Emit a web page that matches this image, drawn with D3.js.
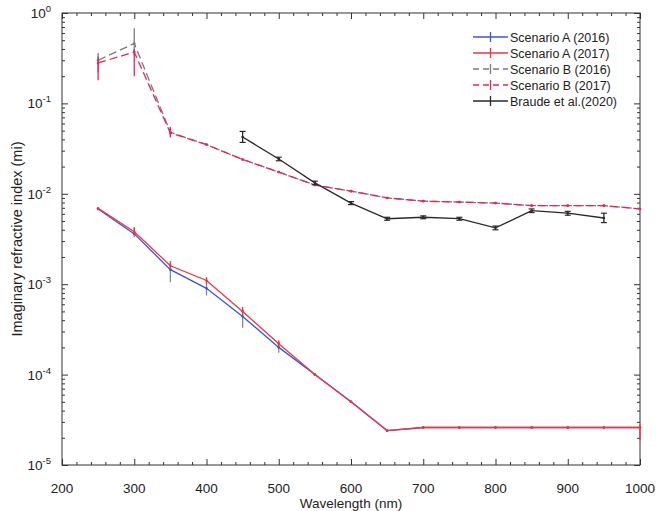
<!DOCTYPE html>
<html>
<head>
<meta charset="utf-8">
<script src="https://cdn.jsdelivr.net/npm/d3@7"></script>
<style>
  html, body { margin: 0; padding: 0; background: #fff; }
  svg { display: block; font-family: "Liberation Sans", Arial, Helvetica, sans-serif; }
</style>
</head>
<body>
<svg id="chart" width="656" height="511"></svg>
<script>
// Wavelength grid (nm) shared by the four scenario curves
const wavelengths = [250, 300, 350, 400, 450, 500, 550, 600, 650, 700, 750, 800, 850, 900, 950, 1000];

// Scenario A: imaginary refractive index
const scenarioA2016 = [0.0068, 0.0036, 0.00145, 0.00090, 0.00044, 0.00020, 0.00010, 0.000050, 0.000024, 0.000026, 0.000026, 0.000026, 0.000026, 0.000026, 0.000026, 0.000026];
const scenarioA2017 = [0.0069, 0.0038, 0.00160, 0.00110, 0.00050, 0.00022, 0.00010, 0.000050, 0.000024, 0.000026, 0.000026, 0.000026, 0.000026, 0.000026, 0.000026, 0.000026];
// error bar bounds [low, high] (null = no bar)
const scenarioA2016Err = [null, [0.0033, 0.0043], [0.00105, 0.0017], [0.00075, 0.00105], [0.00033, 0.00053], [0.000175, 0.00023], null, null, null, null, null, null, null, null, null, null];
const scenarioA2017Err = [null, [0.0035, 0.0042], [0.0015, 0.0018], [0.0010, 0.0012], [0.00046, 0.00056], [0.00020, 0.00024], null, null, null, null, null, null, null, null, null, [0.000019, 0.000028]];

// Scenario B: imaginary refractive index
const scenarioB2016 = [0.30, 0.46, 0.048, 0.035, 0.024, 0.0174, 0.0125, 0.0107, 0.0090, 0.0083, 0.0081, 0.0079, 0.0074, 0.0074, 0.0074, 0.0068];
const scenarioB2017 = [0.28, 0.37, 0.047, 0.035, 0.024, 0.0174, 0.0125, 0.0107, 0.0090, 0.0083, 0.0081, 0.0079, 0.0074, 0.0074, 0.0074, 0.0068];
const scenarioB2016Err = [[0.22, 0.36], [0.34, 0.68], [0.043, 0.054], null, null, null, null, null, null, null, null, null, null, null, null, null];
const scenarioB2017Err = [[0.18, 0.33], [0.20, 0.40], [0.042, 0.055], null, null, null, null, null, null, null, null, null, null, null, null, null];

// Braude et al. (2020)
const braudeWavelengths = [450, 500, 550, 600, 650, 700, 750, 800, 850, 900, 950];
const braudeValues = [0.0425, 0.0243, 0.0132, 0.0079, 0.0053, 0.0055, 0.0053, 0.0042, 0.0065, 0.0061, 0.0054];
const braudeErr = [[0.037, 0.049], [0.0232, 0.0254], [0.0126, 0.0138], [0.0076, 0.0082], [0.0051, 0.0055], [0.0053, 0.0057], [0.0051, 0.0055], [0.0040, 0.0044], [0.0062, 0.0068], [0.0058, 0.0064], [0.0048, 0.0061]];

// Axis ticks
const xTicks = [200, 300, 400, 500, 600, 700, 800, 900, 1000];
const yTickExponents = [0, -1, -2, -3, -4, -5];

const legendLabels = ["Scenario A (2016)", "Scenario A (2017)", "Scenario B (2016)", "Scenario B (2017)", "Braude et al.(2020)"];

const svg = d3.select("#chart");
const M = { left: 62, right: 640, top: 13, bottom: 465 };

const x = d3.scaleLinear().domain([200, 1000]).range([M.left, M.right]);
const y = d3.scaleLog().domain([1e-5, 1]).range([M.bottom, M.top]);

const axisColor = "#333";
const textColor = "#222";

// ---- axes: inward ticks on all four sides (boxed frame) ----
const xMinor = d3.range(200, 1001, 20).filter(v => v % 100 !== 0);
const yMinor = [];
yTickExponents.slice(0, -1).forEach(e => {
  for (let k = 2; k <= 9; k++) yMinor.push(k * Math.pow(10, e - 1));
});

function drawAxis(axis, translate, minorValues, minorAxis) {
  const g = svg.append("g").attr("transform", translate).call(axis);
  g.select(".domain").remove();
  g.selectAll("line").attr("stroke", axisColor);
  g.selectAll("text").remove();
  const gm = svg.append("g").attr("transform", translate).call(minorAxis.tickValues(minorValues));
  gm.select(".domain").remove();
  gm.selectAll("line").attr("stroke", axisColor);
  gm.selectAll("text").remove();
}

// bottom & top
drawAxis(d3.axisTop(x).tickValues(xTicks).tickSize(6), `translate(0,${M.bottom})`, xMinor, d3.axisTop(x).tickSize(3));
drawAxis(d3.axisBottom(x).tickValues(xTicks).tickSize(6), `translate(0,${M.top})`, xMinor, d3.axisBottom(x).tickSize(3));
// left & right
const yMajorVals = yTickExponents.map(e => Math.pow(10, e));
drawAxis(d3.axisRight(y).tickValues(yMajorVals).tickSize(6), `translate(${M.left},0)`, yMinor, d3.axisRight(y).tickSize(3));
drawAxis(d3.axisLeft(y).tickValues(yMajorVals).tickSize(6), `translate(${M.right},0)`, yMinor, d3.axisLeft(y).tickSize(3));

// frame
svg.append("rect")
  .attr("x", M.left).attr("y", M.top)
  .attr("width", M.right - M.left).attr("height", M.bottom - M.top)
  .attr("fill", "none").attr("stroke", axisColor).attr("stroke-width", 1);

// x tick labels
svg.append("g").selectAll("text").data(xTicks).join("text")
  .attr("x", d => x(d)).attr("y", M.bottom + 28)
  .attr("text-anchor", "middle").attr("font-size", 13.5).attr("fill", textColor)
  .text(d => d);

// y tick labels: 10 with superscript exponent
const yl = svg.append("g").selectAll("text").data(yTickExponents).join("text")
  .attr("x", M.left - 11).attr("y", d => y(Math.pow(10, d)) + 5)
  .attr("text-anchor", "end").attr("font-size", 13.5).attr("fill", textColor);
yl.append("tspan").text("10");
yl.append("tspan").attr("dy", -6).attr("font-size", 9.5).text(d => d === 0 ? "0" : "-" + Math.abs(d));

// axis titles
svg.append("text")
  .attr("x", (M.left + M.right) / 2).attr("y", M.bottom + 43)
  .attr("text-anchor", "middle").attr("font-size", 13.5).attr("fill", textColor)
  .text("Wavelength (nm)");
svg.append("text")
  .attr("transform", `translate(22,${(M.top + M.bottom) / 2}) rotate(-90)`)
  .attr("text-anchor", "middle").attr("font-size", 14.5).attr("fill", textColor)
  .text("Imaginary refractive index (mi)");

// ---- series ----
const series = [
  { xs: wavelengths, ys: scenarioB2016, err: scenarioB2016Err, color: "#7a7a7a", dash: "8,4", cap: 0 },
  { xs: wavelengths, ys: scenarioB2017, err: scenarioB2017Err, color: "#ec2457", dash: "8,4", cap: 0 },
  { xs: braudeWavelengths, ys: braudeValues, err: braudeErr, color: "#2a2a2a", dash: null, cap: 3 },
  { xs: wavelengths, ys: scenarioA2016, err: scenarioA2016Err, color: "#3557dc", dash: null, cap: 0, barColor: "#7c8aa8" },
  { xs: wavelengths, ys: scenarioA2017, err: scenarioA2017Err, color: "#f2343e", dash: null, cap: 0 }
];

const plot = svg.append("g");
const line = d3.line().x(d => x(d[0])).y(d => y(d[1]));

series.forEach(s => {
  const pts = s.xs.map((w, i) => [w, s.ys[i]]);
  plot.append("path")
    .attr("d", line(pts))
    .attr("fill", "none").attr("stroke", s.color).attr("stroke-width", 1.3)
    .attr("stroke-dasharray", s.dash);
  const bars = s.xs.map((w, i) => ({ w, e: s.err[i] })).filter(d => d.e);
  const bc = s.barColor || s.color;
  plot.append("g").selectAll("line").data(bars).join("line")
    .attr("x1", d => x(d.w)).attr("x2", d => x(d.w))
    .attr("y1", d => y(d.e[0])).attr("y2", d => y(d.e[1]))
    .attr("stroke", bc).attr("stroke-width", 1.3);
  if (s.cap > 0) {
    bars.forEach(d => {
      [d.e[0], d.e[1]].forEach(v => {
        plot.append("line")
          .attr("x1", x(d.w) - s.cap).attr("x2", x(d.w) + s.cap)
          .attr("y1", y(v)).attr("y2", y(v))
          .attr("stroke", bc).attr("stroke-width", 1.2);
      });
    });
  }
  // small point markers
  plot.append("g").selectAll("circle").data(pts).join("circle")
    .attr("cx", d => x(d[0])).attr("cy", d => y(d[1])).attr("r", 1.3)
    .attr("fill", s.color);
});

// ---- legend ----
const legendStyles = [
  { color: "#3557dc", dash: null },
  { color: "#f2343e", dash: null },
  { color: "#7a7a7a", dash: "6,4" },
  { color: "#ec2457", dash: "6,4" },
  { color: "#2a2a2a", dash: null }
];
const lg = svg.append("g").attr("transform", "translate(473,37)");
legendLabels.forEach((lab, i) => {
  const row = lg.append("g").attr("transform", `translate(0,${i * 16})`);
  row.append("line").attr("x1", 0).attr("x2", 35).attr("y1", 0).attr("y2", 0)
    .attr("stroke", legendStyles[i].color).attr("stroke-width", 1.3)
    .attr("stroke-dasharray", legendStyles[i].dash);
  row.append("line").attr("x1", 17.5).attr("x2", 17.5).attr("y1", -5).attr("y2", 5)
    .attr("stroke", legendStyles[i].color).attr("stroke-width", 1.3);
  row.append("text").attr("x", 37).attr("y", 4.5)
    .attr("font-size", 12.5).attr("fill", textColor).text(lab);
});
</script>
</body>
</html>
